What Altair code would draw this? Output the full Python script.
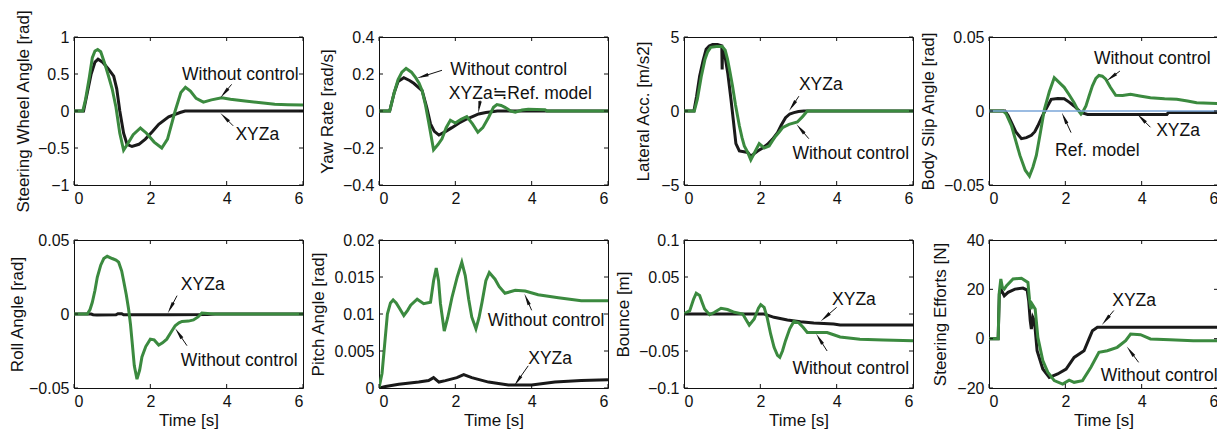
import math
import altair as alt
import pandas as pd

FONT = "Liberation Sans, Noto Sans CJK JP, DejaVu Sans"
W, H = 229, 148
GREEN = "#3b8a3f"
BLACK = "#1a1a1a"
BLUE = "#7aa6d8"
X_TICKS = [0, 2, 4, 6]

# ---------------- Panel 1: Steering Wheel Angle ----------------
P1_YDOM = [-1, 1]
P1_YTICKS = [-1, -0.5, 0, 0.5, 1]
P1_G_T = [0, 0.23, 0.3, 0.4, 0.48, 0.55, 0.62, 0.7, 0.8, 0.9, 1.0, 1.1, 1.2, 1.3, 1.4, 1.55, 1.74, 1.9, 2.1, 2.3, 2.45, 2.65, 2.8, 2.92, 3.05, 3.2, 3.39, 3.6, 3.87, 4.1, 4.48, 4.9, 5.26, 5.6, 6.0]
P1_G_V = [0, 0, 0.15, 0.45, 0.72, 0.81, 0.83, 0.8, 0.65, 0.48, 0.3, 0.05, -0.3, -0.53, -0.45, -0.32, -0.23, -0.3, -0.42, -0.5, -0.38, 0.0, 0.25, 0.32, 0.27, 0.17, 0.12, 0.15, 0.18, 0.16, 0.135, 0.11, 0.09, 0.085, 0.08]
P1_B_T = [0, 0.25, 0.35, 0.45, 0.55, 0.63, 0.75, 0.9, 1.04, 1.12, 1.2, 1.3, 1.39, 1.52, 1.7, 1.87, 2.05, 2.22, 2.48, 2.78, 2.91, 6]
P1_B_V = [0, 0, 0.25, 0.5, 0.66, 0.70, 0.66, 0.57, 0.47, 0.3, 0.0, -0.3, -0.45, -0.48, -0.45, -0.38, -0.28, -0.18, -0.08, -0.02, 0, 0]
P1_NOTE_TEXT = ["Without control", "XYZa"]
P1_NOTE_X = [2.83, 4.23]
P1_NOTE_Y = [0.48, -0.32]
P1_ARROW_TAIL = [(4.13, 0.36), (4.17, -0.2)]
P1_ARROW_HEAD = [(3.87, 0.2), (3.87, -0.045)]

# ---------------- Panel 2: Yaw Rate ----------------
P2_YDOM = [-0.4, 0.4]
P2_YTICKS = [-0.4, -0.2, 0, 0.2, 0.4]
P2_G_T = [0, 0.28, 0.4, 0.5, 0.6, 0.71, 0.85, 0.96, 1.05, 1.13, 1.22, 1.3, 1.43, 1.55, 1.65, 1.76, 1.87, 2.0, 2.15, 2.3, 2.45, 2.59, 2.72, 2.87, 3.0, 3.09, 3.2, 3.3, 3.45, 3.57, 3.75, 3.91, 4.35, 4.4, 6]
P2_G_V = [0, 0, 0.1, 0.17, 0.21, 0.23, 0.21, 0.18, 0.15, 0.11, 0.03, -0.06, -0.21, -0.18, -0.15, -0.09, -0.05, -0.065, -0.045, -0.03, -0.07, -0.115, -0.09, -0.035, 0.02, 0.035, 0.03, 0.02, 0.0, -0.007, 0.005, 0.01, 0.007, 0, 0]
P2_B_T = [0, 0.28, 0.4, 0.5, 0.65, 0.8, 0.91, 1.13, 1.25, 1.35, 1.45, 1.57, 1.75, 1.91, 2.1, 2.26, 2.45, 2.61, 2.8, 2.96, 3.1, 6]
P2_B_V = [0, 0, 0.1, 0.16, 0.18, 0.165, 0.15, 0.11, 0.02, -0.07, -0.11, -0.13, -0.11, -0.09, -0.065, -0.047, -0.03, -0.016, -0.008, -0.004, 0, 0]
P2_NOTE_TEXT = ["Without control", "XYZa≒Ref. model"]
P2_NOTE_X = [1.87, 1.83]
P2_NOTE_Y = [0.22, 0.092]
P2_ARROW_TAIL = [(1.65, 0.22), (2.65, 0.056)]
P2_ARROW_HEAD = [(1.04, 0.18), (2.61, 0.0)]

# ---------------- Panel 3: Lateral Acc. ----------------
P3_YDOM = [-5, 5]
P3_YTICKS = [-5, 0, 5]
P3_G_T = [0, 0.27, 0.35, 0.45, 0.55, 0.62, 0.7, 0.85, 1.0, 1.08, 1.14, 1.2, 1.27, 1.35, 1.45, 1.52, 1.58, 1.67, 1.75, 1.85, 1.97, 2.1, 2.23, 2.32, 2.4, 2.5, 2.58, 2.75, 2.97, 3.1, 3.23, 6]
P3_G_V = [0, 0, 0.8, 2.3, 3.5, 4.0, 4.3, 4.35, 4.35, 4.1, 3.5, 2.7, 1.7, 0.4, -1.0, -1.8, -2.36, -2.8, -3.3, -2.8, -2.2, -2.5, -2.36, -2.0, -1.7, -1.4, -1.13, -0.9, -0.74, -0.4, 0, 0]
P3_B_T = [0, 0.26, 0.33, 0.41, 0.5, 0.58, 0.66, 0.75, 0.88, 0.99, 1.0, 1.01, 1.08, 1.15, 1.23, 1.3, 1.36, 1.45, 1.57, 1.67, 1.75, 1.93, 2.06, 2.19, 2.32, 2.45, 2.55, 2.66, 2.77, 2.88, 3.0, 3.14, 6]
P3_B_V = [0, 0, 1.0, 2.36, 3.4, 4.17, 4.4, 4.5, 4.5, 4.4, 2.8, 4.3, 3.6, 2.5, 0.8, -0.8, -2.2, -2.7, -2.75, -2.8, -3.05, -2.7, -2.5, -2.25, -1.9, -1.46, -0.95, -0.45, -0.2, -0.11, -0.03, 0, 0]
P3_NOTE_TEXT = ["XYZa", "Without control"]
P3_NOTE_X = [3.01, 2.84]
P3_NOTE_Y = [1.73, -2.93]
P3_ARROW_TAIL = [(3.01, 1.0), (3.27, -1.87)]
P3_ARROW_HEAD = [(2.78, 0.11), (2.98, -1.0)]

# ---------------- Panel 4: Body Slip Angle ----------------
P4_YDOM = [-0.05, 0.05]
P4_YTICKS = [-0.05, 0, 0.05]
P4_G_T = [0, 0.37, 0.45, 0.59, 0.7, 0.81, 0.95, 1.06, 1.15, 1.24, 1.35, 1.45, 1.58, 1.71, 1.85, 1.97, 2.1, 2.23, 2.32, 2.41, 2.47, 2.54, 2.62, 2.71, 2.8, 2.88, 2.97, 3.06, 3.18, 3.32, 3.5, 3.71, 3.95, 4.23, 4.6, 4.92, 5.2, 5.44, 6]
P4_G_V = [0, 0, -0.002, -0.010, -0.02, -0.030, -0.040, -0.044, -0.038, -0.030, -0.014, 0.001, 0.013, 0.0225, 0.019, 0.016, 0.011, 0.0056, 0.001, -0.002, 0.0, 0.0034, 0.01, 0.017, 0.022, 0.024, 0.0235, 0.0215, 0.016, 0.0106, 0.0105, 0.0113, 0.0102, 0.009, 0.0083, 0.0079, 0.0068, 0.0056, 0.005]
P4_B_T = [0, 0.42, 0.5, 0.59, 0.7, 0.85, 0.98, 1.11, 1.2, 1.28, 1.37, 1.45, 1.55, 1.63, 1.8, 1.97, 2.1, 2.23, 2.41, 2.58, 4.66, 4.7, 6]
P4_B_V = [0, 0, -0.003, -0.0079, -0.014, -0.0187, -0.018, -0.0164, -0.014, -0.010, -0.005, -0.0007, 0.004, 0.0079, 0.0085, 0.0083, 0.006, 0.0034, -0.001, -0.0023, -0.0023, -0.001, -0.001]
P4_R_T = [0, 6]
P4_R_V = [0, 0]
P4_NOTE_TEXT = ["Without control", "Ref. model", "XYZa"]
P4_NOTE_X = [2.75, 1.73, 4.38]
P4_NOTE_Y = [0.0354, -0.027, -0.0135]
P4_ARROW_TAIL = [(3.43, 0.027), (2.15, -0.0146), (4.23, -0.011)]
P4_ARROW_HEAD = [(3.12, 0.021), (1.93, -0.0023), (3.92, -0.003)]

# ---------------- Panel 5: Roll Angle ----------------
P5_YDOM = [-0.05, 0.05]
P5_YTICKS = [-0.05, 0, 0.05]
P5_G_T = [0, 0.35, 0.42, 0.48, 0.55, 0.61, 0.7, 0.78, 0.87, 1.0, 1.1, 1.17, 1.25, 1.3, 1.37, 1.43, 1.48, 1.52, 1.58, 1.65, 1.72, 1.78, 1.88, 2.0, 2.1, 2.22, 2.32, 2.43, 2.55, 2.65, 2.75, 2.83, 3.0, 3.13, 3.25, 3.35, 3.5, 3.7, 6]
P5_G_V = [0, 0, 0.003, 0.0079, 0.016, 0.0248, 0.033, 0.0375, 0.039, 0.0375, 0.0365, 0.035, 0.029, 0.0225, 0.013, 0.0034, -0.007, -0.018, -0.035, -0.044, -0.038, -0.029, -0.022, -0.017, -0.0175, -0.021, -0.0195, -0.017, -0.012, -0.0079, -0.006, -0.005, -0.0048, -0.004, -0.002, 0.0007, 0.0004, 0, 0]
P5_B_T = [0, 0.45, 0.5, 0.6, 1.1, 1.15, 1.25, 1.3, 2.5, 3.5, 3.7, 6]
P5_B_V = [0, 0, -0.0005, -0.0007, -0.0005, 0.0002, 0.0002, -0.0005, -0.0005, -0.0003, 0, 0]
P5_NOTE_TEXT = ["XYZa", "Without control"]
P5_NOTE_X = [2.80, 2.80]
P5_NOTE_Y = [0.0196, -0.0315]
P5_ARROW_TAIL = [(2.70, 0.0124), (2.96, -0.0214)]
P5_ARROW_HEAD = [(2.48, 0.0016), (2.68, -0.0108)]

# ---------------- Panel 6: Pitch Angle ----------------
P6_YDOM = [0, 0.02]
P6_YTICKS = [0, 0.005, 0.01, 0.015, 0.02]
P6_G_T = [0, 0.08, 0.15, 0.22, 0.3, 0.37, 0.45, 0.52, 0.65, 0.75, 0.83, 1.0, 1.17, 1.35, 1.43, 1.5, 1.56, 1.61, 1.71, 1.8, 1.91, 2.05, 2.17, 2.26, 2.35, 2.43, 2.54, 2.62, 2.7, 2.8, 2.89, 3.04, 3.15, 3.3, 3.57, 3.83, 4.17, 4.7, 5.3, 6]
P6_G_V = [0, 0.002, 0.006, 0.010, 0.0115, 0.0119, 0.0115, 0.0109, 0.0098, 0.0105, 0.0112, 0.012, 0.0114, 0.0116, 0.0145, 0.0162, 0.0145, 0.0114, 0.0077, 0.0095, 0.0122, 0.015, 0.017, 0.0152, 0.012, 0.0096, 0.008, 0.0095, 0.0116, 0.0145, 0.0156, 0.0147, 0.0137, 0.0128, 0.0132, 0.0131, 0.0126, 0.0122, 0.0118, 0.0118]
P6_B_T = [0, 0.17, 0.52, 1.04, 1.3, 1.43, 1.57, 1.74, 2.04, 2.22, 2.43, 2.87, 3.39, 4.0, 4.61, 5.3, 6]
P6_B_V = [0, 0.0002, 0.0005, 0.0008, 0.001, 0.0014, 0.0008, 0.001, 0.0014, 0.0018, 0.0014, 0.0008, 0.0004, 0.0004, 0.0008, 0.001, 0.0011]
P6_NOTE_TEXT = ["Without control", "XYZa"]
P6_NOTE_X = [2.85, 3.91]
P6_NOTE_Y = [0.009, 0.0039]
P6_ARROW_TAIL = [(4.0, 0.0105), (3.91, 0.003)]
P6_ARROW_HEAD = [(3.83, 0.0125), (3.57, 0.0005)]

# ---------------- Panel 7: Bounce ----------------
P7_YDOM = [-0.1, 0.1]
P7_YTICKS = [-0.1, -0.05, 0, 0.05, 0.1]
P7_G_T = [0, 0.15, 0.25, 0.32, 0.41, 0.48, 0.54, 0.67, 0.8, 0.97, 1.14, 1.32, 1.54, 1.63, 1.71, 1.84, 1.95, 2.01, 2.10, 2.18, 2.27, 2.36, 2.45, 2.51, 2.58, 2.66, 2.77, 2.88, 3.01, 3.12, 3.23, 3.49, 3.75, 3.92, 4.09, 4.61, 5.22, 6]
P7_G_V = [0, 0.0045, 0.02, 0.028, 0.025, 0.015, 0.0068, -0.001, 0.0023, 0.0077, 0.006, 0.0023, 0, -0.008, -0.015, -0.0068, 0.008, 0.0126, 0.009, -0.005, -0.027, -0.045, -0.056, -0.0585, -0.05, -0.036, -0.02, -0.01, -0.012, -0.018, -0.025, -0.025, -0.025, -0.028, -0.031, -0.034, -0.035, -0.036]
P7_B_T = [0, 2.1, 2.36, 2.71, 3.05, 3.4, 3.92, 4.09, 6]
P7_B_V = [0, 0, -0.0045, -0.008, -0.0104, -0.012, -0.0135, -0.015, -0.015]
P7_NOTE_TEXT = ["XYZa", "Without control"]
P7_NOTE_X = [3.88, 2.84]
P7_NOTE_Y = [0.019, -0.074]
P7_ARROW_TAIL = [(4.0, 0.009), (3.75, -0.05)]
P7_ARROW_HEAD = [(3.62, -0.008), (3.49, -0.029)]

# ---------------- Panel 8: Steering Efforts ----------------
P8_YDOM = [-20, 40]
P8_YTICKS = [-20, 0, 20, 40]
P8_G_T = [0, 0.24, 0.27, 0.31, 0.35, 0.40, 0.46, 0.63, 0.85, 1.02, 1.06, 1.1, 1.13, 1.21, 1.28, 1.41, 1.54, 1.71, 1.93, 2.10, 2.23, 2.45, 2.67, 2.88, 3.10, 3.36, 3.58, 3.71, 3.97, 4.23, 4.74, 5.35, 6]
P8_G_V = [0, 0, 18.8, 24.2, 20.8, 20.1, 21.5, 24.2, 24.5, 22.8, 16, 12, 14, 12, 0.5, -8.9, -13.6, -17, -18.4, -16.8, -17.7, -17, -11.6, -5.5, -4.9, -3.5, -0.8, 1.9, 1.6, -0.1, -0.4, -0.8, -0.8]
P8_B_T = [0, 0.24, 0.27, 0.33, 0.40, 0.50, 0.68, 0.89, 1.0, 1.04, 1.08, 1.11, 1.15, 1.19, 1.26, 1.41, 1.58, 1.80, 2.02, 2.23, 2.49, 2.62, 2.71, 2.84, 6]
P8_B_V = [0, 0, 18.1, 19.5, 17.4, 18.8, 20.1, 20.5, 19.7, 15.4, 7.3, 3.9, 8.6, 7.3, -4.9, -12.3, -15.7, -14.3, -12.3, -7.6, -4.9, -0.1, 3.2, 4.6, 4.6]
P8_NOTE_TEXT = ["XYZa", "Without control"]
P8_NOTE_X = [3.23, 2.93]
P8_NOTE_Y = [15.1, -15.3]
P8_ARROW_TAIL = [(3.27, 11.4), (3.92, -9.6)]
P8_ARROW_HEAD = [(2.99, 6.2), (3.64, -3.8)]


def make_panel(ytitle, ydom, yticks, black, green, notes, tails, heads, xtitle, tpad, ref=None):
    sx = W / 6.0
    sy = H / float(ydom[1] - ydom[0])
    xs = alt.Scale(domain=[0, 6], nice=False, zero=False)
    ys = alt.Scale(domain=ydom, nice=False, zero=False)
    xaxis = alt.Axis(values=X_TICKS, grid=False, ticks=False, domain=False, tickSize=0,
                     labelFontSize=16, labelFont=FONT, labelColor="#111", labelPadding=5,
                     titleFontSize=17, titleFont=FONT, titleColor="#111", titleFontWeight="normal",
                     titlePadding=3)
    yaxis = alt.Axis(values=yticks, format="~r", grid=False, ticks=False, domain=False, tickSize=0,
                     labelFontSize=16, labelFont=FONT, labelColor="#111", labelPadding=5,
                     titleFontSize=17, titleFont=FONT, titleColor="#111", titleFontWeight="normal",
                     titlePadding=tpad)
    if xtitle:
        X = alt.X("t:Q", scale=xs, axis=xaxis, title=xtitle)
    else:
        X = alt.X("t:Q", scale=xs, axis=xaxis, title=None)
    Y = alt.Y("v:Q", scale=ys, axis=yaxis, title=ytitle)

    layers = []
    bdf = pd.DataFrame({"t": black[0], "v": black[1]})
    gdf = pd.DataFrame({"t": green[0], "v": green[1]})
    layers.append(alt.Chart(bdf).mark_line(color=BLACK, strokeWidth=3, clip=True).encode(x=X, y=Y))
    layers.append(alt.Chart(gdf).mark_line(color=GREEN, strokeWidth=3, clip=True).encode(x=X, y=Y))
    if ref is not None:
        rdf = pd.DataFrame({"t": ref[0], "v": ref[1]})
        layers.append(alt.Chart(rdf).mark_line(color=BLUE, strokeWidth=1.5).encode(x=X, y=Y))

    # inward ticks (MATLAB-style box)
    xt = pd.DataFrame({"t": X_TICKS})
    yt = pd.DataFrame({"v": yticks})
    layers.append(alt.Chart(xt).mark_rule(color="#111", strokeWidth=1).encode(
        x=X, y=alt.value(H), y2=alt.value(H - 4)))
    layers.append(alt.Chart(xt).mark_rule(color="#111", strokeWidth=1).encode(
        x=X, y=alt.value(0), y2=alt.value(4)))
    layers.append(alt.Chart(yt).mark_rule(color="#111", strokeWidth=1).encode(
        y=Y, x=alt.value(0), x2=alt.value(4)))
    layers.append(alt.Chart(yt).mark_rule(color="#111", strokeWidth=1).encode(
        y=Y, x=alt.value(W), x2=alt.value(W - 4)))

    # arrows
    rows = []
    for (tx, ty), (hx, hy) in zip(tails, heads):
        dxp = (hx - tx) * sx
        dyp = (hy - ty) * sy
        L = math.hypot(dxp, dyp)
        ux, uy = dxp / L, dyp / L
        ang = math.degrees(math.atan2(ux, uy)) % 360
        cx = hx - 6 * ux / sx
        cy = hy - 6 * uy / sy
        rows.append({"t": tx, "v": ty, "t2": hx - 3 * ux / sx, "v2": hy - 3 * uy / sy,
                     "ct": cx, "cv": cy, "ang": ang})
    adf = pd.DataFrame(rows)
    layers.append(alt.Chart(adf).mark_rule(color="#111", strokeWidth=1).encode(
        x=X, y=Y, x2="t2:Q", y2="v2:Q"))
    layers.append(alt.Chart(adf).mark_point(shape="wedge", filled=True, color="#111",
                                            size=190, opacity=1).encode(
        x=alt.X("ct:Q", scale=xs, axis=xaxis, title=xtitle if xtitle else None),
        y=alt.Y("cv:Q", scale=ys, axis=yaxis, title=ytitle),
        angle=alt.Angle("ang:Q", scale=None)))

    ndf = pd.DataFrame({"txt": notes[0], "t": notes[1], "v": notes[2]})
    layers.append(alt.Chart(ndf).mark_text(align="left", baseline="middle", fontSize=17.5,
                                           font=FONT, color="#111").encode(
        x=X, y=Y, text="txt:N"))

    return alt.layer(*layers).properties(width=W, height=H)


p1 = make_panel("Steering Wheel Angle [rad]", P1_YDOM, P1_YTICKS, (P1_B_T, P1_B_V), (P1_G_T, P1_G_V),
                (P1_NOTE_TEXT, P1_NOTE_X, P1_NOTE_Y), P1_ARROW_TAIL, P1_ARROW_HEAD, None, 5)
p2 = make_panel("Yaw Rate [rad/s]", P2_YDOM, P2_YTICKS, (P2_B_T, P2_B_V), (P2_G_T, P2_G_V),
                (P2_NOTE_TEXT, P2_NOTE_X, P2_NOTE_Y), P2_ARROW_TAIL, P2_ARROW_HEAD, None, 6)
p3 = make_panel("Lateral Acc. [m/s2]", P3_YDOM, P3_YTICKS, (P3_B_T, P3_B_V), (P3_G_T, P3_G_V),
                (P3_NOTE_TEXT, P3_NOTE_X, P3_NOTE_Y), P3_ARROW_TAIL, P3_ARROW_HEAD, None, 8)
p4 = make_panel("Body Slip Angle [rad]", P4_YDOM, P4_YTICKS, (P4_B_T, P4_B_V), (P4_G_T, P4_G_V),
                (P4_NOTE_TEXT, P4_NOTE_X, P4_NOTE_Y), P4_ARROW_TAIL, P4_ARROW_HEAD, None, 6,
                ref=(P4_R_T, P4_R_V))
p5 = make_panel("Roll Angle [rad]", P5_YDOM, P5_YTICKS, (P5_B_T, P5_B_V), (P5_G_T, P5_G_V),
                (P5_NOTE_TEXT, P5_NOTE_X, P5_NOTE_Y), P5_ARROW_TAIL, P5_ARROW_HEAD, "Time [s]", 2)
p6 = make_panel("Pitch Angle [rad]", P6_YDOM, P6_YTICKS, (P6_B_T, P6_B_V), (P6_G_T, P6_G_V),
                (P6_NOTE_TEXT, P6_NOTE_X, P6_NOTE_Y), P6_ARROW_TAIL, P6_ARROW_HEAD, "Time [s]", 6)
p7 = make_panel("Bounce [m]", P7_YDOM, P7_YTICKS, (P7_B_T, P7_B_V), (P7_G_T, P7_G_V),
                (P7_NOTE_TEXT, P7_NOTE_X, P7_NOTE_Y), P7_ARROW_TAIL, P7_ARROW_HEAD, "Time [s]", 6)
p8 = make_panel("Steering Efforts [N]", P8_YDOM, P8_YTICKS, (P8_B_T, P8_B_V), (P8_G_T, P8_G_V),
                (P8_NOTE_TEXT, P8_NOTE_X, P8_NOTE_Y), P8_ARROW_TAIL, P8_ARROW_HEAD, "Time [s]", 7)

chart = alt.concat(p1, p2, p3, p4, p5, p6, p7, p8, columns=4,
                   spacing=alt.RowColnumber(row=55, column=76), bounds="flush").properties(
    padding={"left": 0, "top": 0, "right": -5, "bottom": 0},
    background="white",
).configure_view(stroke="#111", strokeWidth=1)

chart.save("out.html", embed_options={"renderer": "svg", "actions": False})
